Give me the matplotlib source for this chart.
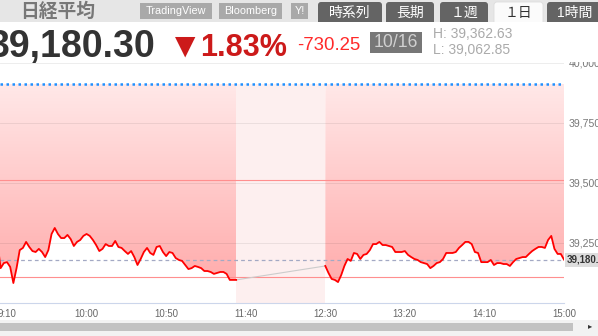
import numpy as np
import matplotlib
matplotlib.use('Agg')
import matplotlib.pyplot as plt
from matplotlib.colors import LinearSegmentedColormap
from matplotlib.patches import Rectangle, FancyBboxPatch

plt.rcParams['font.family'] = ['Liberation Sans', 'Noto Sans CJK JP', 'DejaVu Sans']

# quote data
prev_close = 39910.55
last_price = 39180.30
day_high = 39362.63
day_low = 39062.85
change = -730.25
change_pct = -1.83
quote_date = '10/16'
band_levels = [39511, 39110]

# 2-minute prices, morning from 9:04, afternoon from 12:30 (minutes since midnight)
am_start = 9 * 60 + 4
pm_start = 12 * 60 + 30
am_prices = [39249, 39145, 39166, 39170, 39150, 39083, 39145, 39220, 39229, 39254,
             39233, 39216, 39212, 39225, 39212, 39191, 39220, 39287, 39312, 39287,
             39270, 39270, 39283, 39266, 39237, 39254, 39262, 39279, 39287, 39279,
             39262, 39241, 39216, 39225, 39245, 39237, 39237, 39258, 39233, 39229,
             39216, 39204, 39216, 39191, 39158, 39183, 39212, 39229, 39208, 39200,
             39233, 39237, 39212, 39195, 39212, 39208, 39187, 39179, 39175, 39158,
             39141, 39145, 39154, 39150, 39145, 39133, 39133, 39129, 39121, 39125,
             39129, 39129, 39121, 39096, 39096, 39096]
pm_prices = [39154, 39125, 39100, 39096, 39087, 39116, 39154, 39183, 39175, 39208,
             39204, 39183, 39200, 39204, 39220, 39245, 39245, 39254, 39241, 39241,
             39237, 39233, 39212, 39212, 39212, 39216, 39200, 39191, 39183, 39179,
             39170, 39166, 39162, 39145, 39154, 39166, 39170, 39183, 39208, 39208,
             39208, 39212, 39229, 39241, 39254, 39254, 39245, 39212, 39208, 39170,
             39170, 39170, 39179, 39158, 39166, 39166, 39162, 39162, 39154, 39170,
             39183, 39187, 39191, 39191, 39204, 39216, 39225, 39233, 39233, 39229,
             39262, 39279, 39225, 39204, 39204, 39180.30]

x_tick_labels = ['9:10', '10:00', '10:50', '11:40', '12:30', '13:20', '14:10', '15:00']
y_ticks = [39250, 39500, 39750, 40000]
tabs = ['時系列', '長期', '１週', '１日', '1時間']
active_tab = '１日'
links = ['TradingView', 'Bloomberg', 'Y!']

am_t = am_start + 2 * np.arange(len(am_prices))
pm_t = pm_start + 2 * np.arange(len(pm_prices))
x_ticks = [int(s.split(':')[0]) * 60 + int(s.split(':')[1]) for s in x_tick_labels]

W, H = 598, 336
fig = plt.figure(figsize=(W / 100, H / 100), dpi=100)
fig.patch.set_facecolor('white')

# chart
ax = fig.add_axes([0, 1 - 303 / H, 564 / W, (303 - 62.5) / H])
x_lo, x_hi = 545.6, 900
y_lo, y_hi = 39000, 40000

cmap = LinearSegmentedColormap.from_list('fade', ['#ffa6a6', '#ffe8e8'])
grad = np.linspace(0, 1, 256).reshape(-1, 1)
for t, p in [(am_t, am_prices), (pm_t, pm_prices)]:
    coll = ax.fill_between(t, p, prev_close, facecolor='none', edgecolor='none')
    im = ax.imshow(grad, cmap=cmap, origin='lower', aspect='auto',
                   extent=(t[0], t[-1], y_lo, prev_close), zorder=1)
    im.set_clip_path(coll.get_paths()[0], transform=ax.transData)

# lunch break
ax.fill_between([am_t[-1], pm_t[0]], y_lo, prev_close, color='#fdefef', lw=0, zorder=2)

for yv in y_ticks:
    ax.axhline(yv, color='k', alpha=0.07, lw=0.7, zorder=3)
for lv in band_levels:
    ax.axhline(lv, color='#ff8f8f', lw=0.8, zorder=3)

ax.plot([am_t[-1], pm_t[0]], [am_prices[-1], pm_prices[0]], color='#cccccc', lw=0.8, zorder=3)
ax.axhline(last_price, color='#a3a9c4', lw=0.9, ls=(0, (3, 2.5)), zorder=4)
ax.axhline(prev_close, color='#1e90ff', lw=1.8, ls=(0, (1, 1.4)), dash_capstyle='butt', zorder=6)

ax.plot(am_t, am_prices, color='#ff0000', lw=1.3, zorder=5, solid_joinstyle='round')
ax.plot(pm_t, pm_prices, color='#ff0000', lw=1.3, zorder=5, solid_joinstyle='round')

ax.set_xlim(x_lo, x_hi)
ax.set_ylim(y_lo, y_hi)
for s in ['top', 'left', 'right']:
    ax.spines[s].set_visible(False)
ax.spines['bottom'].set_color('#ccd6eb')
ax.spines['bottom'].set_linewidth(0.8)

ax.set_xticks(x_ticks)
ax.set_xticklabels(x_tick_labels)
ax.tick_params(axis='x', length=0, pad=4, labelsize=6.9, labelcolor='#666666')
ax.yaxis.tick_right()
ax.set_yticks(y_ticks)
ax.set_yticklabels([f'{v:,}' for v in y_ticks])
ax.tick_params(axis='y', length=0, pad=3.6, labelsize=7.6, labelcolor='#777777')

ax.annotate(f'{last_price:,.2f}', xy=(1, last_price), xycoords=('axes fraction', 'data'),
            xytext=(2, 0), textcoords='offset points', ha='left', va='center',
            fontsize=7, fontweight='bold', color='#333333', annotation_clip=False,
            bbox=dict(boxstyle='square,pad=0.2', fc='#dddddd', ec='none'))

# header and footer, drawn in pixel coordinates
ov = fig.add_axes([0, 0, 1, 1], zorder=10)
ov.set_xlim(0, W)
ov.set_ylim(H, 0)
ov.axis('off')
ov.patch.set_visible(False)

ov.add_patch(Rectangle((0, 0), W, 22, fc='#e6e6e6', ec='none', zorder=1))
ov.text(20, 11.5, '日経平均', ha='left', va='center', fontsize=13.5, fontweight='bold',
        color='#777777', zorder=4)

link_pos = [(140, 212), (219, 282), (291, 308)]
for name, (x0, x1) in zip(links, link_pos):
    ov.add_patch(Rectangle((x0, 3), x1 - x0, 16, fc='#a9a9a9', ec='none', zorder=2))
    ov.text((x0 + x1) / 2, 11.5, name, ha='center', va='center', fontsize=7.8,
            color='white', zorder=4)

tab_pos = [(318, 382), (386, 434), (440, 488), (494, 543), (547, 602)]
for name, (x0, x1) in zip(tabs, tab_pos):
    on = name == active_tab
    ov.add_patch(FancyBboxPatch((x0, 2), x1 - x0, 26,
                                boxstyle='round,pad=0,rounding_size=3',
                                fc='#fbfbfb' if on else '#646464',
                                ec='#dddddd' if on else 'none', lw=0.6, zorder=2))
    ov.text((x0 + x1) / 2, 12.5, name, ha='center', va='center', fontsize=10,
            color='#333333' if on else 'white', zorder=4)

ov.add_patch(Rectangle((0, 22), W, 40, fc='white', ec='none', zorder=3))

ov.text(155, 57, f'{last_price:,.2f}', ha='right', va='baseline', fontsize=27,
        fontweight='bold', color='#333333', zorder=4)
ov.text(168, 57, '▼', ha='left', va='baseline', fontsize=25, color='#cc1a1a', zorder=4)
ov.text(200, 56, f'{abs(change_pct):.2f}%', ha='left', va='baseline', fontsize=22,
        fontweight='bold', color='#cc1a1a', zorder=4)
ov.text(297, 50, f'{change:,.2f}', ha='left', va='baseline', fontsize=13.4,
        color='#ff2a2a', zorder=4)
ov.add_patch(Rectangle((370, 32), 52, 21, fc='#777777', ec='none', zorder=4))
ov.text(396, 42.5, quote_date, ha='center', va='center', fontsize=12.7,
        color='#d0d0d0', zorder=5)
ov.text(433, 34, f'H: {day_high:,.2f}', ha='left', va='center', fontsize=10,
        color='#aaaaaa', zorder=4)
ov.text(433, 50, f'L: {day_low:,.2f}', ha='left', va='center', fontsize=10,
        color='#aaaaaa', zorder=4)

# scrollbar
ov.add_patch(Rectangle((0, 320), W, 16, fc='#f2f2f2', ec='none', zorder=1))
ov.add_patch(Rectangle((0, 323), 573, 8, fc='#c2c2c2', ec='none', zorder=2))
ov.text(590, 327, '▸', ha='center', va='center', fontsize=6, color='#333333', zorder=4)

fig.savefig('out.png', dpi=100)
